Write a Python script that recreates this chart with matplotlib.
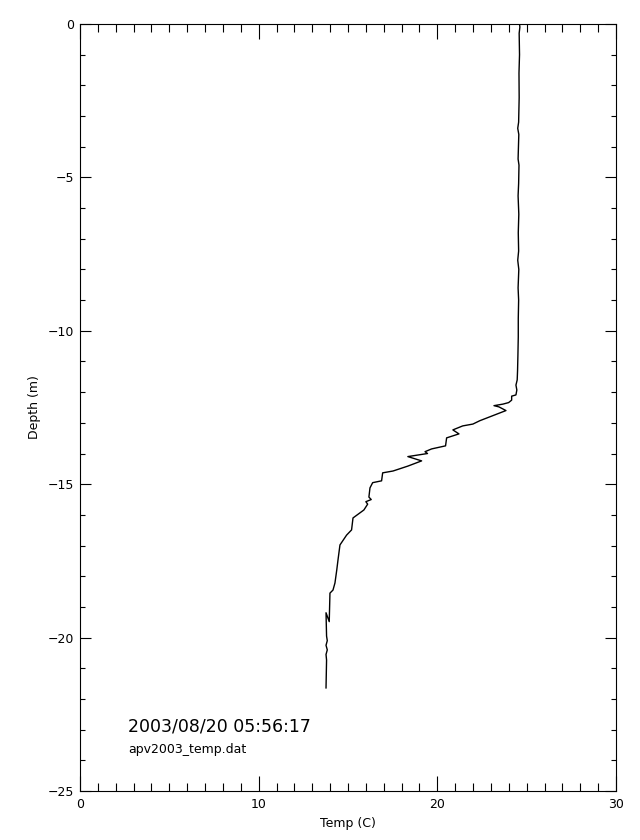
import numpy as np
import matplotlib
matplotlib.use('Agg')
import matplotlib.pyplot as plt
from matplotlib.ticker import MultipleLocator

# profile (temp in C, depth in m)
depth = [0.00, -0.10, -0.30, -1.00, -1.60, -2.40, -3.20, -3.40, -3.60, -4.40, -4.60,
         -5.20, -5.60, -6.20, -6.80, -7.40, -7.70, -8.00, -8.60, -9.00, -9.60,
         -10.20, -10.80, -11.30, -11.60, -11.77, -11.93, -12.09, -12.13, -12.26,
         -12.34, -12.39, -12.44, -12.48, -12.60, -12.93, -13.04, -13.10, -13.23,
         -13.36, -13.49, -13.75, -13.85, -13.94, -14.00, -14.10, -14.24, -14.41, -14.57,
         -14.63, -14.89, -14.95, -15.12, -15.42, -15.50, -15.57, -15.65, -15.84,
         -16.10, -16.49, -16.66, -16.98, -17.47, -17.80, -18.22, -18.45, -18.55,
         -19.48, -19.19, -19.95, -20.10, -20.25, -20.40, -20.55, -20.73, -21.64]
temp = [24.60, 24.62, 24.58, 24.60, 24.57, 24.58, 24.55, 24.50, 24.56, 24.52, 24.57,
        24.55, 24.52, 24.56, 24.53, 24.55, 24.50, 24.56, 24.52, 24.55, 24.53,
        24.53, 24.51, 24.49, 24.47, 24.40, 24.45, 24.40, 24.16, 24.16,
        23.99, 23.67, 23.17, 23.45, 23.84, 22.38, 21.99, 21.42, 20.87,
        21.21, 20.52, 20.46, 19.68, 19.31, 19.45, 18.35, 19.12, 18.35, 17.52,
        16.94, 16.88, 16.38, 16.23, 16.17, 16.30, 16.00, 16.10, 15.89,
        15.28, 15.20, 14.92, 14.55, 14.44, 14.37, 14.27, 14.16, 13.99,
        13.95, 13.77, 13.80, 13.84, 13.77, 13.84, 13.77, 13.80, 13.77]

timestamp = '2003/08/20 05:56:17'
fname = 'apv2003_temp.dat'

fig = plt.figure(figsize=(6.4, 8.4), dpi=100)
ax = fig.add_axes([80/640, 49/840, 536/640, 767/840])

ax.plot(temp, depth, color='black', linewidth=1.0)

ax.set_xlim(0, 30)
ax.set_ylim(-25, 0)
ax.xaxis.set_major_locator(MultipleLocator(10))
ax.xaxis.set_minor_locator(MultipleLocator(1))
ax.yaxis.set_major_locator(MultipleLocator(5))
ax.yaxis.set_minor_locator(MultipleLocator(1))
ax.set_yticks([-25, -20, -15, -10, -5, 0])
ax.set_yticklabels(['\u221225', '\u221220', '\u221215', '\u221210', '\u22125', '0'])

ax.tick_params(axis='x', which='major', direction='in', length=10.8, width=0.8,
               top=True, bottom=True, labelsize=9, pad=5)
ax.tick_params(axis='x', which='minor', direction='in', length=5.5, width=0.8,
               top=True, bottom=True)
ax.tick_params(axis='y', which='major', direction='in', length=7.7, width=0.8,
               left=True, right=True, labelsize=9, pad=4)
ax.tick_params(axis='y', which='minor', direction='in', length=3.9, width=0.8,
               left=True, right=True)
for s in ax.spines.values():
    s.set_linewidth(0.8)

ax.set_xlabel('Temp (C)', fontsize=9, labelpad=4)
ax.set_ylabel('Depth (m)', fontsize=9, labelpad=5)

ax.text(2.7, -23.05, timestamp, fontsize=12.5, ha='left', va='baseline')
ax.text(2.7, -23.75, fname, fontsize=9, ha='left', va='baseline')

fig.savefig('out.png', dpi=100, facecolor='white')
